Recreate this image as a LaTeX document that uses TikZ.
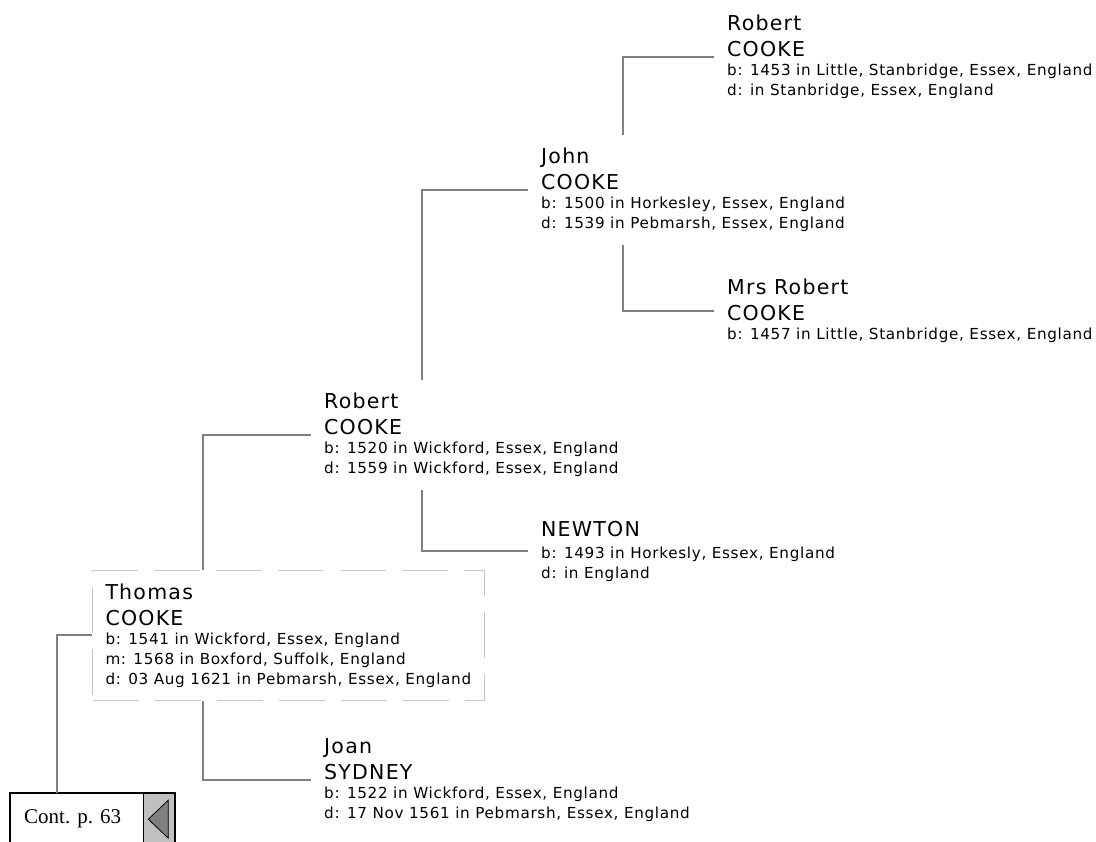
\documentclass[tikz,border=0pt]{standalone}
\usepackage{fontspec}
\setmainfont{DejaVu Sans}
\newfontfamily\namefont[LetterSpace=6]{DejaVu Sans}
\newfontfamily\infofont[LetterSpace=4.5]{DejaVu Sans}
\newfontfamily\contfont{Liberation Serif}
\usepackage{tikz}
\usetikzlibrary{positioning}

\definecolor{linkgray}{RGB}{128,128,128}
\definecolor{boxgray}{RGB}{200,200,200}
\definecolor{tabgray}{RGB}{192,192,192}
\definecolor{tridark}{RGB}{128,128,128}

\newcommand{\pname}[1]{{\namefont\fontsize{20.5}{20}\selectfont #1}}

\begin{document}
\begin{tikzpicture}[
  x=1pt, y=-1pt,
  person/.style = {anchor=north west, align=left, inner xsep=13pt, inner ysep=13pt,
                   font=\infofont\fontsize{15.2}{20}\selectfont},
  focus/.style = {person, draw=boxgray, line width=1pt, dash pattern=on 46pt off 16pt},
  link/.style = {draw=linkgray, line width=1.8pt},
  contbox/.style = {anchor=north west, draw, minimum width=133pt, minimum height=52pt,
                    inner sep=0pt, font=\contfont\fontsize{21}{24}\selectfont\frenchspacing},
]
\useasboundingbox (0,0) rectangle (1096,842);

\node[person] (robertTop) at (714,2) {\pname{Robert}\\[6pt]\pname{COOKE}\\[-1pt]b: 1453 in Little, Stanbridge, Essex, England\\d: in Stanbridge, Essex, England};
\node[person] (john) at (528,135) {\pname{John}\\[6pt]\pname{COOKE}\\[-1pt]b: 1500 in Horkesley, Essex, England\\d: 1539 in Pebmarsh, Essex, England};
\node[person] (mrsRobert) at (714,266) {\pname{Mrs Robert}\\[6pt]\pname{COOKE}\\[-1pt]b: 1457 in Little, Stanbridge, Essex, England};
\node[person] (robertMid) at (311,380) {\pname{Robert}\\[6pt]\pname{COOKE}\\[-1pt]b: 1520 in Wickford, Essex, England\\d: 1559 in Wickford, Essex, England};
\node[person] (newton) at (528,508) {\pname{NEWTON}\\[2pt]b: 1493 in Horkesly, Essex, England\\d: in England};
\node[focus] (thomas) at (92,570) {\pname{Thomas}\\[6pt]\pname{COOKE}\\[-1pt]b: 1541 in Wickford, Essex, England\\m: 1568 in Boxford, Suffolk, England\\d: 03 Aug 1621 in Pebmarsh, Essex, England};
\node[person] (joan) at (311,725) {\pname{Joan}\\[6pt]\pname{SYDNEY}\\[-1pt]b: 1522 in Wickford, Essex, England\\d: 17 Nov 1561 in Pebmarsh, Essex, England};

% continuation tab
\node[contbox, text width=105pt, align=left, inner xsep=14pt] (contp) at (10,793) {Cont. p. 63};
\node[contbox, minimum width=31pt, fill=tabgray, line width=0.8pt, right=0pt of contp] (tab) {};
\draw[fill=tridark, line width=0.8pt] ([xshift=-11pt]tab.center) -- ([xshift=9pt, yshift=19pt]tab.center)
  -- ([xshift=9pt, yshift=-19pt]tab.center) -- cycle;
\draw[line width=2pt] (contp.north west) rectangle (tab.south east);

\coordinate (jfork) at (623,0);
\coordinate (rfork) at (422,0);
\coordinate (tfork) at (203,0);
\coordinate (cfork) at (57,0);

\draw[link] (john.north -| jfork) |- (robertTop.west);
\draw[link] (john.south -| jfork) |- (mrsRobert.west);
\draw[link] (robertMid.north -| rfork) |- (john.west);
\draw[link] (robertMid.south -| rfork) |- (newton.west);
\draw[link] (thomas.north -| tfork) |- (robertMid.west);
\draw[link] (thomas.south -| tfork) |- (joan.west);
\draw[link] (thomas.west) -| (contp.north -| cfork);

\end{tikzpicture}
\end{document}
